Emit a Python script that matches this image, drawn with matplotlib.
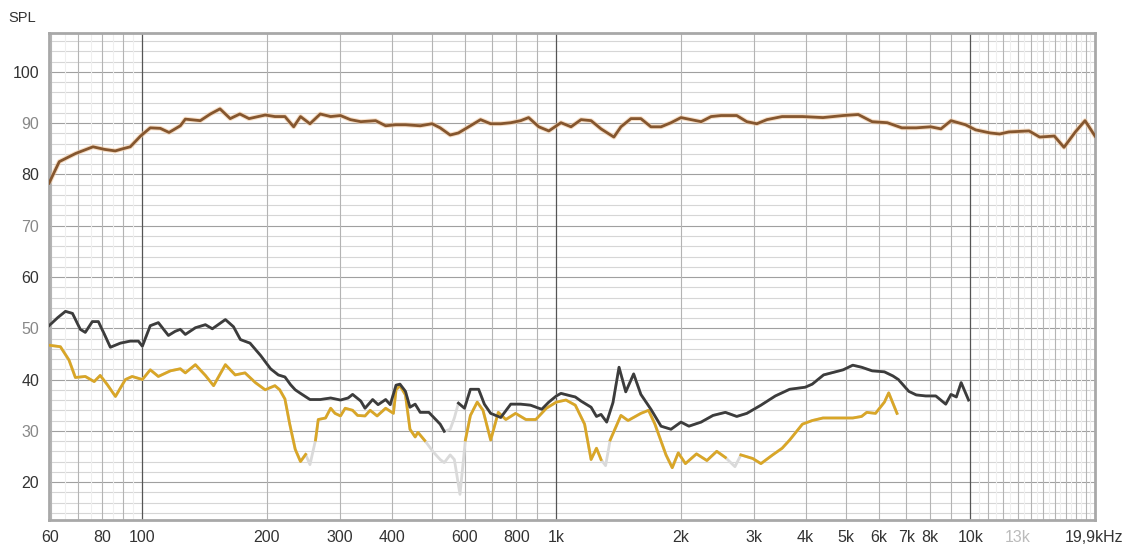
import numpy as np
import matplotlib
matplotlib.use("Agg")
import matplotlib.pyplot as plt

# Frequency response curves (Hz, dB SPL)
top_f = [59.5, 63, 69, 76, 81, 86, 89.5, 93.5, 99, 104.5, 110.5, 116, 123.5, 127, 138, 146, 154, 163,
         172, 181, 198, 209, 221, 232, 241, 254, 269, 285, 301, 318, 337, 366, 387, 409, 432, 469,
         501, 524, 554, 580, 620, 656, 694, 734, 776, 820, 857, 907, 959, 1026, 1085, 1147, 1213,
         1282, 1377, 1432, 1514, 1600, 1692, 1790, 1892, 2000, 2115, 2237, 2365, 2500, 2727, 2884,
         3050, 3225, 3510, 3930, 4405, 4930, 5360, 5790, 6300, 6830, 7400, 8020, 8490, 8980, 9730,
         10300, 11170, 11770, 12380, 13860, 14700, 15950, 16830, 17930, 18920, 20000]
top_db = [78.3, 82.5, 84.1, 85.4, 84.9, 84.6, 85.0, 85.4, 87.5, 89.1, 89.0, 88.2, 89.5, 90.8, 90.5,
          91.8, 92.8, 90.9, 91.8, 90.9, 91.6, 91.3, 91.3, 89.3, 91.3, 89.9, 91.8, 91.3, 91.5, 90.7,
          90.3, 90.5, 89.5, 89.7, 89.7, 89.5, 89.9, 89.1, 87.7, 88.1, 89.5, 90.7, 89.9, 89.9, 90.1,
          90.5, 91.1, 89.3, 88.5, 90.1, 89.3, 90.7, 90.5, 88.9, 87.3, 89.3, 90.9, 90.9, 89.3, 89.3,
          90.1, 91.1, 90.7, 90.3, 91.3, 91.5, 91.5, 90.3, 89.9, 90.7, 91.3, 91.3, 91.1, 91.5, 91.7,
          90.3, 90.1, 89.1, 89.1, 89.3, 88.9, 90.5, 89.7, 88.7, 88.1, 87.9, 88.3, 88.5, 87.3, 87.5,
          85.3, 88.3, 90.5, 87.5]

mid_f = [59.5, 62.5, 65.2, 67.8, 70.8, 72.8, 75.7, 78.3, 81, 83.7, 88.5, 93.5, 97.8, 100, 104.5,
         109.3, 115.6, 120, 123.5, 127, 134.3, 142, 147.6, 158.7, 166, 172.5, 182, 193, 204, 213,
         221, 228, 234, 241, 254, 269, 285, 301, 314, 322, 337, 345, 360, 371, 387, 397, 410, 419,
         432, 443, 456, 469, 492, 524, 536, 554, 567, 580, 600, 620, 649, 670, 694, 734, 776, 820,
         866, 922, 959, 1000, 1026, 1085, 1111, 1147, 1213, 1250, 1282, 1323, 1370, 1417, 1471,
         1537, 1600, 1692, 1790, 1892, 2000, 2090, 2237, 2390, 2560, 2727, 2884, 3120, 3380, 3660,
         3990, 4150, 4420, 4930, 5200, 5460, 5790, 6200, 6500, 6700, 7100, 7400, 7800, 8250, 8720,
         8980, 9250, 9500, 9900]
mid_db = [50.5, 52.1, 53.3, 52.9, 49.8, 49.2, 51.3, 51.3, 48.8, 46.3, 47.1, 47.5, 47.5, 46.5, 50.5,
          51.1, 48.6, 49.4, 49.8, 48.8, 50.1, 50.7, 49.9, 51.7, 50.3, 47.8, 47.1, 44.7, 42.1, 40.9,
          40.5, 39.0, 38.0, 37.3, 36.1, 36.1, 36.4, 36.0, 36.4, 37.1, 35.8, 34.4, 36.1, 35.1, 36.1,
          35.1, 38.9, 39.1, 37.7, 34.6, 35.2, 33.6, 33.6, 31.3, 29.9, 30.3, 32.5, 35.4, 34.4, 38.1,
          38.1, 35.2, 33.4, 32.6, 35.2, 35.2, 35.0, 34.2, 35.6, 36.8, 37.3, 36.8, 36.6, 35.8, 34.6,
          32.8, 33.2, 31.7, 35.5, 42.4, 37.6, 41.1, 37.1, 34.2, 30.9, 30.3, 31.7, 30.9, 31.7, 33.0,
          33.6, 32.8, 33.4, 35.0, 36.8, 38.1, 38.5, 39.1, 40.9, 41.9, 42.8, 42.4, 41.7, 41.5, 40.7,
          40.0, 37.7, 37.0, 36.8, 36.8, 35.2, 37.1, 36.6, 39.4, 36.0]

low_f = [59.5, 63.4, 66.5, 68.9, 72.8, 76.5, 79.1, 82.3, 86.1, 91, 94.5, 100, 104.5, 109.3, 116.9,
         123.5, 127, 134.3, 142, 148.6, 158.7, 167.6, 177, 187.5, 198, 209, 214.7, 221, 227, 234,
         241, 248, 254, 262, 266, 277, 285, 292, 301, 309, 322, 331, 345, 355, 369, 387, 404, 410,
         419, 432, 443, 456, 463, 481, 504, 524, 536, 554, 567, 585, 603, 620, 644, 665, 694, 724,
         755, 797, 844, 892, 946, 1000, 1055, 1111, 1170, 1213, 1250, 1282, 1315, 1349, 1432, 1490,
         1600, 1670, 1730, 1840, 1905, 1970, 2050, 2180, 2310, 2440, 2560, 2700, 2790, 2980, 3120,
         3330, 3510, 3660, 3930, 4150, 4405, 4790, 5200, 5460, 5620, 5900, 6200, 6350, 6650]
low_db = [46.7, 46.4, 43.8, 40.4, 40.6, 39.6, 40.8, 39.0, 36.7, 40.0, 40.6, 40.0, 41.9, 40.6, 41.7,
          42.1, 41.3, 42.9, 40.8, 38.8, 42.9, 40.9, 41.3, 39.4, 38.0, 38.8, 38.0, 36.2, 31.3, 26.4,
          24.0, 25.4, 23.4, 28.2, 32.2, 32.5, 34.4, 33.4, 32.9, 34.4, 34.0, 33.0, 32.9, 34.0, 32.9,
          34.4, 33.4, 38.0, 38.8, 37.0, 30.3, 28.8, 29.7, 28.1, 25.9, 24.4, 23.8, 25.3, 24.4, 17.6,
          28.2, 33.0, 35.6, 34.0, 28.2, 33.6, 32.2, 33.4, 32.2, 32.2, 34.4, 35.6, 36.0, 35.0, 31.3,
          24.4, 26.6, 24.4, 23.2, 28.2, 33.0, 32.0, 33.4, 34.0, 31.3, 25.3, 22.8, 25.7, 23.6, 25.5,
          24.2, 26.0, 24.8, 23.0, 25.3, 24.6, 23.6, 25.3, 26.6, 28.2, 31.3, 32.0, 32.5, 32.5, 32.5,
          32.8, 33.6, 33.4, 35.6, 37.4, 33.4]

# frequency ranges where the coloured trace fades into the light grey one
low_faded = [(249, 258), (500, 600), (1300, 1335), (2660, 2740)]
mid_faded = [(537, 578)]

x_ticks = [60, 80, 100, 200, 300, 400, 600, 800, 1000, 2000, 3000, 4000, 5000, 6000, 7000, 8000,
           10000, 13000, 19900]
x_labels = ["60", "80", "100", "200", "300", "400", "600", "800", "1k", "2k", "3k", "4k", "5k",
            "6k", "7k", "8k", "10k", "13k", "19,9kHz"]
y_ticks = [20, 30, 40, 50, 60, 70, 80, 90, 100]


def faded(f, db, bands):
    f = np.array(f)
    db = np.array(db, dtype=float)
    for lo, hi in bands:
        db[(f > lo) & (f < hi)] = np.nan
    return db


plt.rcParams['font.family'] = ['Liberation Sans', 'DejaVu Sans']
fig = plt.figure(figsize=(11.26, 5.54), dpi=100)
ax = fig.add_axes([49 / 1126, 1 - 520 / 554, 1046 / 1126, 487 / 554])
ax.set_xscale('log')
ax.set_xlim(59.5, 20000)
ax.set_ylim(12.6, 107.6)

# grid: horizontal every 2 dB, heavier every 10 dB
for v in range(14, 108, 2):
    ax.axhline(v, color='#a0a0a0' if v % 10 == 0 else '#d6d6d6', lw=0.8, zorder=0)
minor_x = [60, 70, 80, 90] + list(range(200, 1000, 100)) + list(range(2000, 10000, 1000)) + \
          list(range(11000, 20000, 1000))
for v in minor_x:
    ax.axvline(v, color='#b4b4b4', lw=0.8, zorder=0)
for v in [65, 75, 85, 95] + list(range(10500, 20000, 1000)):
    ax.axvline(v, color='#efefef', lw=0.8, zorder=0)
for v in [100, 1000, 10000]:
    ax.axvline(v, color='#555555', lw=0.9, zorder=0)

# curves
ax.plot(top_f, top_db, color='#f3c9a0', lw=3.5, alpha=0.6, zorder=2)
ax.plot(top_f, top_db, color='#85562e', lw=2.0, zorder=3)
ax.plot(low_f, low_db, color='#dadada', lw=2.0, zorder=2)
ax.plot(mid_f, mid_db, color='#dadada', lw=2.0, zorder=2)
ax.plot(low_f, faded(low_f, low_db, low_faded), color='#d9a627', lw=2.0, zorder=3)
ax.plot(mid_f, faded(mid_f, mid_db, mid_faded), color='#3c3c3c', lw=2.0, zorder=4)

ax.set_xticks(x_ticks)
ax.set_xticklabels(x_labels)
ax.minorticks_off()
ax.set_yticks(y_ticks)
ax.tick_params(length=0, labelsize=11.5, pad=7)
for i, lab in enumerate(ax.get_xticklabels()):
    lab.set_color('#bbbbbb' if x_labels[i] == "13k" else '#333333')
for i, lab in enumerate(ax.get_yticklabels()):
    lab.set_color('#333333' if y_ticks[i] % 20 == 0 else '#888888')

for s in ax.spines.values():
    s.set_color('#a8a8a8')
    s.set_linewidth(2)

fig.text(8 / 1126, 1 - 18 / 554, "SPL", fontsize=10.5, color='#333333', va='center')

plt.savefig("out.png", dpi=100)
